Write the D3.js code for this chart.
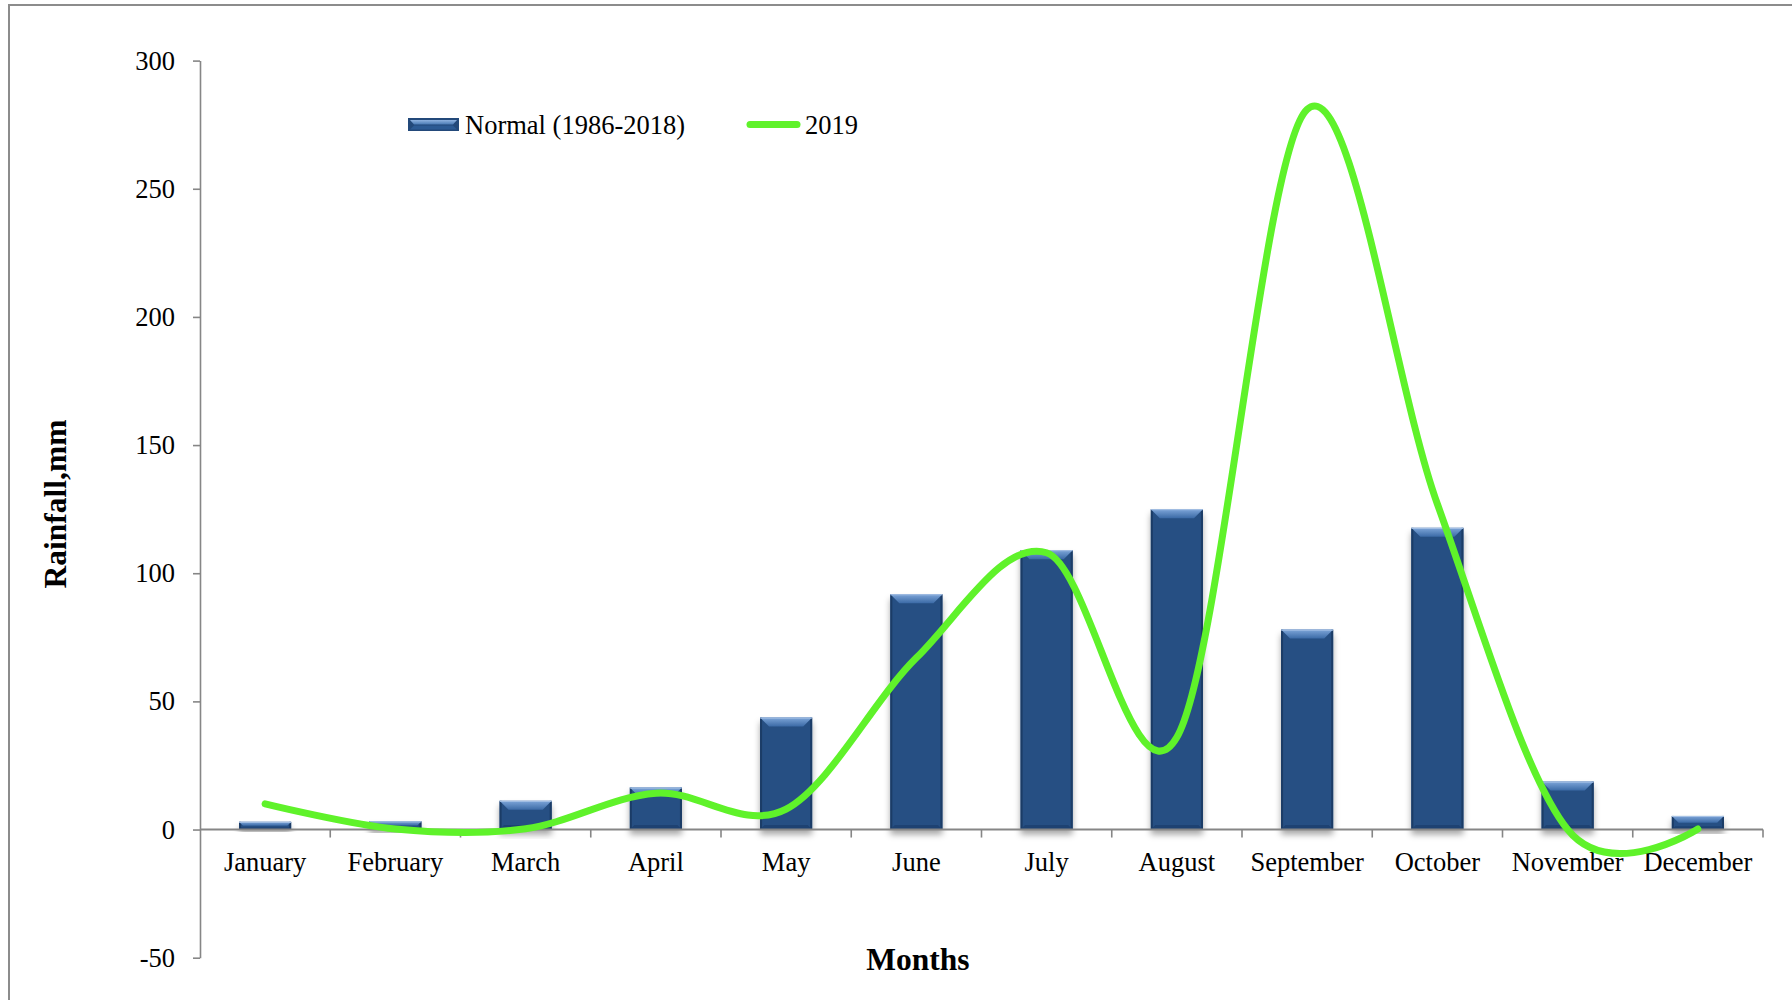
<!DOCTYPE html>
<html>
<head>
<meta charset="utf-8">
<script src="https://cdn.jsdelivr.net/npm/d3@7/dist/d3.min.js"></script>
<style>
  html, body { margin: 0; padding: 0; background: #ffffff; }
  svg { display: block; }
  text { font-family: "Liberation Serif", "Times New Roman", serif; fill: #000; }
</style>
</head>
<body>
<svg id="chart" width="1792" height="1000"></svg>
<script>
// ---- data ----
const months = ["January","February","March","April","May","June","July","August","September","October","November","December"];
const normalRain = [3, 3.2, 11.2, 16.4, 43.7, 91.8, 109, 125, 78, 117.7, 18.7, 5.3];
const rain2019 = [10, 0.2, 0.3, 14.2, 8, 67, 108, 36, 281, 127, 0, 0.2];
const yTicks = [-50, 0, 50, 100, 150, 200, 250, 300];
const seriesNames = ["Normal (1986-2018)", "2019"];
const axisTitleX = "Months";
const axisTitleY = "Rainfall,mm";

// ---- layout ----
const W = 1792, H = 1000;
const plot = { left: 200, right: 1763, top: 60.6, bottom: 957.7 };
const svg = d3.select("#chart");

const x = d3.scaleBand().domain(months).range([plot.left, plot.right]).paddingInner(0.6).paddingOuter(0.3);
const y = d3.scaleLinear().domain([-50, 300]).range([plot.bottom, plot.top]);

const defs = svg.append("defs");
const bevelGrad = defs.append("linearGradient").attr("id", "bevelTop").attr("x1", 0).attr("y1", 0).attr("x2", 0).attr("y2", 1);
bevelGrad.append("stop").attr("offset", "0%").attr("stop-color", "#7ea6d9");
bevelGrad.append("stop").attr("offset", "100%").attr("stop-color", "#3b6aa6");
const legGrad = defs.append("linearGradient").attr("id", "legBevel").attr("x1", 0).attr("y1", 0).attr("x2", 0).attr("y2", 1);
legGrad.append("stop").attr("offset", "0%").attr("stop-color", "#8fb3e0");
legGrad.append("stop").attr("offset", "100%").attr("stop-color", "#4a7ab5");
const shadow = defs.append("filter").attr("id", "shadow").attr("x", "-30%").attr("y", "-30%").attr("width", "160%").attr("height", "160%");
shadow.append("feDropShadow").attr("dx", 0).attr("dy", 5).attr("stdDeviation", 3).attr("flood-color", "#000").attr("flood-opacity", 0.35);

// outer frame
svg.append("path")
  .attr("d", `M9,${H + 5} L9,5 L${W + 5},5`)
  .attr("fill", "none").attr("stroke", "#8c8c8c").attr("stroke-width", 2);

// ---- bars ----
const barsG = svg.append("g");
months.forEach((m, i) => {
  const v = normalRain[i];
  const x0 = x(m), bw = x.bandwidth();
  const y0 = y(v), y1 = y(0);
  const h = y1 - y0;
  const b = Math.min(9, h / 2);
  const g = barsG.append("g");
  g.append("rect").attr("x", x0).attr("y", y0).attr("width", bw).attr("height", h)
    .attr("fill", "#254f83").attr("filter", "url(#shadow)");
  g.append("rect").attr("x", x0).attr("y", y0).attr("width", 2).attr("height", h).attr("fill", "#1b3c66");
  g.append("rect").attr("x", x0 + bw - 2).attr("y", y0).attr("width", 2).attr("height", h).attr("fill", "#1b3c66");
  g.append("path")
    .attr("d", `M${x0},${y1} L${x0 + bw},${y1} L${x0 + bw - b * 0.5},${y1 - b * 0.5} L${x0 + b * 0.5},${y1 - b * 0.5} Z`)
    .attr("fill", "#1e4272");
  g.append("path")
    .attr("d", `M${x0},${y0} L${x0 + bw},${y0} L${x0 + bw - b},${y0 + b} L${x0 + b},${y0 + b} Z`)
    .attr("fill", "url(#bevelTop)");
  g.append("line").attr("x1", x0).attr("x2", x0 + bw).attr("y1", y0 + 0.5).attr("y2", y0 + 0.5)
    .attr("stroke", "#a9c3e6").attr("stroke-width", 1);
});

// ---- axes ----
const axisColor = "#868686";
const yAxis = d3.axisLeft(y).tickValues(yTicks).tickFormat(d => String(d)).tickSize(7).tickSizeOuter(0).tickPadding(18);
const yG = svg.append("g").attr("transform", `translate(${plot.left},0)`).call(yAxis);
yG.select(".domain").attr("stroke", axisColor).attr("stroke-width", 1.6);
yG.selectAll(".tick line").attr("stroke", axisColor).attr("stroke-width", 1.6);
yG.selectAll(".tick text").style("font-family", '"Liberation Serif", serif').style("font-size", "26.5px").attr("fill", "#000");

const y0px = y(0);
const xG = svg.append("g");
xG.append("line").attr("x1", plot.left).attr("x2", plot.right).attr("y1", y0px).attr("y2", y0px)
  .attr("stroke", axisColor).attr("stroke-width", 2);
const boundaries = d3.range(months.length + 1).map(i => plot.left + i * x.step());
xG.selectAll("line.tk").data(boundaries.slice(1)).join("line").attr("class", "tk")
  .attr("x1", d => d).attr("x2", d => d).attr("y1", y0px).attr("y2", y0px + 8)
  .attr("stroke", axisColor).attr("stroke-width", 1.6);
xG.selectAll("text.cat").data(months).join("text").attr("class", "cat")
  .attr("x", d => x(d) + x.bandwidth() / 2).attr("y", 871)
  .attr("text-anchor", "middle").style("font-size", "26.5px").text(d => d);

// ---- 2019 line ----
const line = d3.line()
  .x((d, i) => x(months[i]) + x.bandwidth() / 2)
  .y(d => y(d))
  .curve(d3.curveCardinal.tension(0));
svg.append("path").datum(rain2019).attr("d", line)
  .attr("fill", "none").attr("stroke", "#5ff22a").attr("stroke-width", 7)
  .attr("stroke-linecap", "round").attr("stroke-linejoin", "round");

// ---- legend ----
const lg = svg.append("g");
lg.append("rect").attr("x", 408).attr("y", 118).attr("width", 51).attr("height", 13).attr("fill", "#23497a");
lg.append("path").attr("d", "M410,120 L457,120 L453,124.5 L414,124.5 Z").attr("fill", "url(#legBevel)");
lg.append("path").attr("d", "M414,125.5 L453,125.5 L457,129.5 L410,129.5 Z").attr("fill", "#2c5a93");
lg.append("text").attr("x", 465).attr("y", 134).style("font-size", "26.5px").text(seriesNames[0]);
lg.append("line").attr("x1", 750).attr("x2", 797).attr("y1", 124.5).attr("y2", 124.5)
  .attr("stroke", "#5ff22a").attr("stroke-width", 7).attr("stroke-linecap", "round");
lg.append("text").attr("x", 805).attr("y", 134).style("font-size", "26.5px").text(seriesNames[1]);

// ---- axis titles ----
svg.append("text").attr("x", 918).attr("y", 970).attr("text-anchor", "middle")
  .style("font-size", "31.5px").style("font-weight", "bold").text(axisTitleX);
svg.append("text").attr("transform", "translate(66,504) rotate(-90)").attr("text-anchor", "middle")
  .style("font-size", "31.5px").style("font-weight", "bold").text(axisTitleY);
</script>
</body>
</html>
